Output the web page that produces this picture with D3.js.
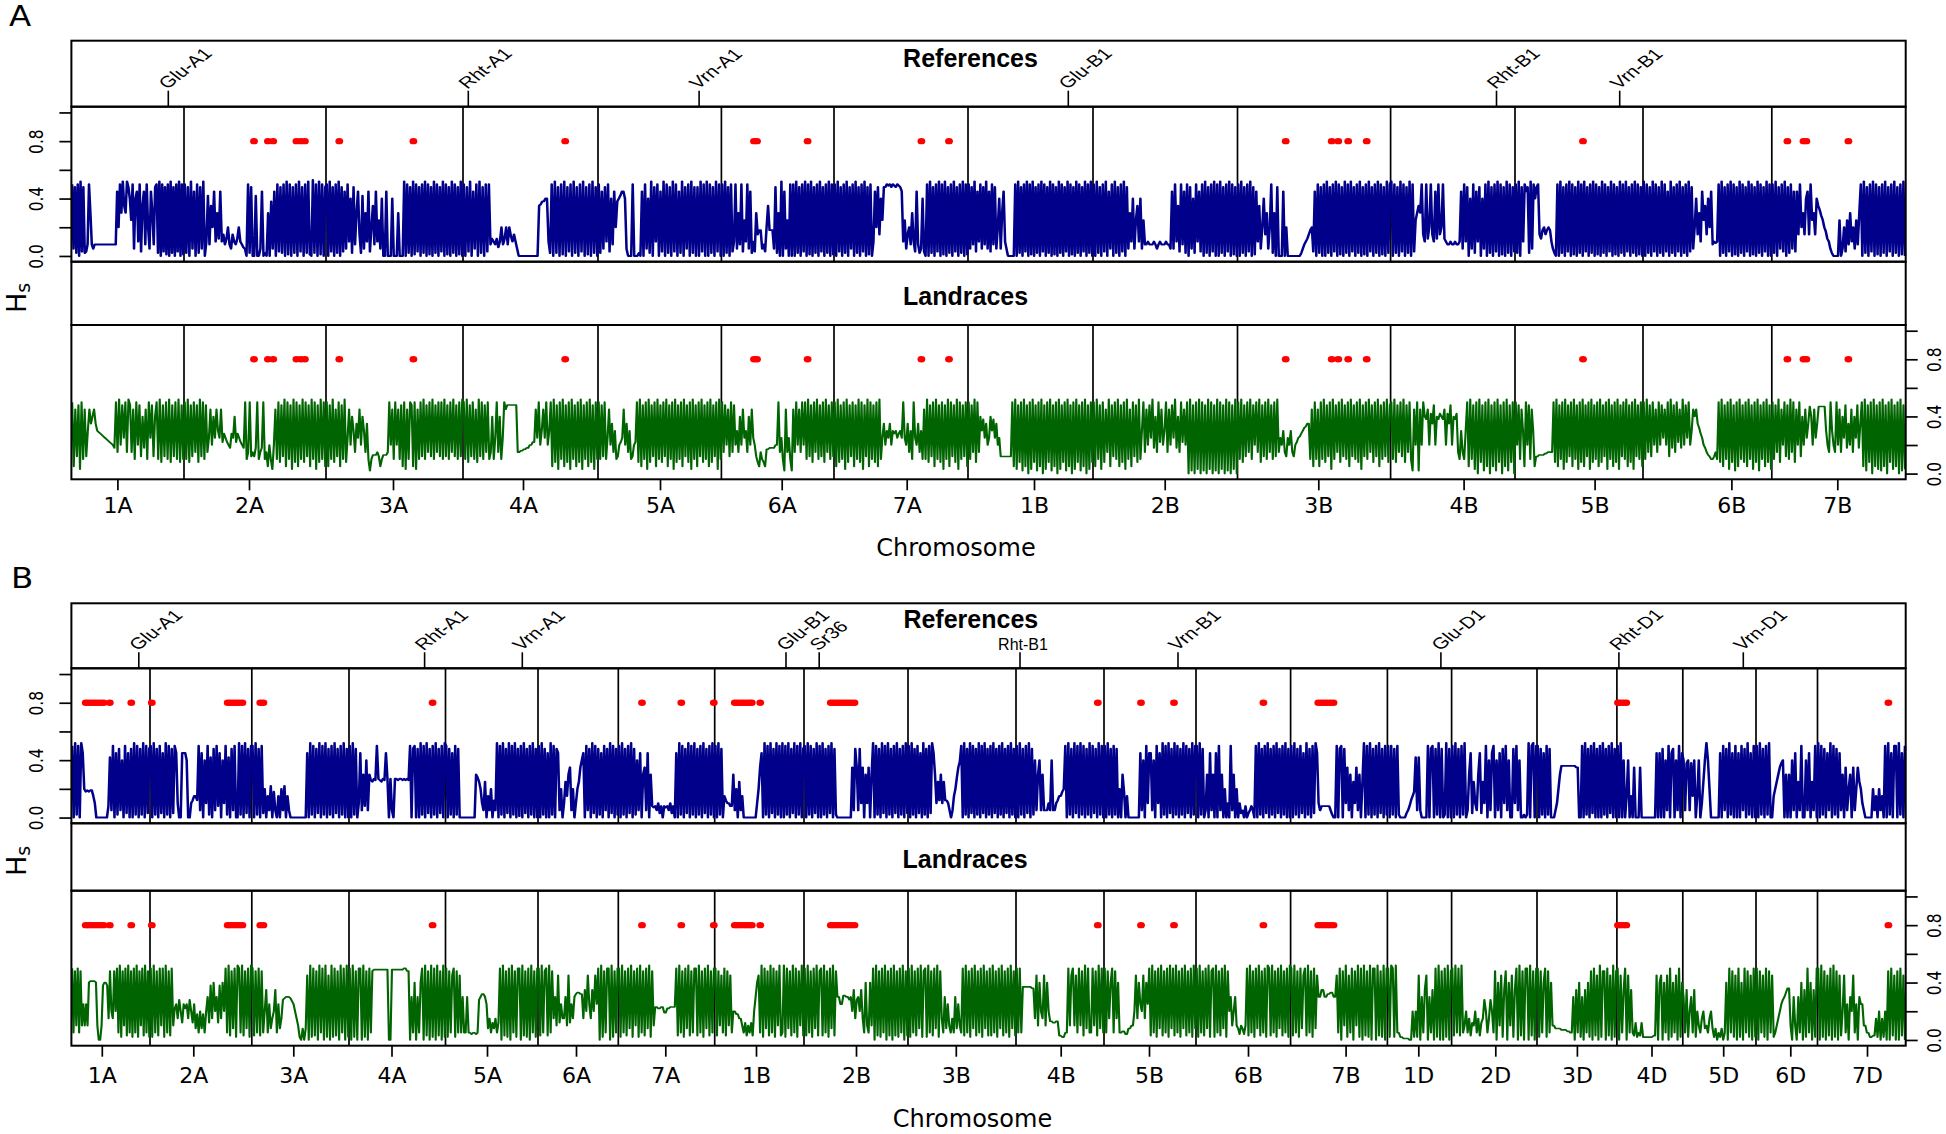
<!DOCTYPE html>
<html><head><meta charset="utf-8">
<script src="https://cdn.jsdelivr.net/npm/d3@7"></script>
<style>body{margin:0;background:#fff}</style>
</head><body><svg id="c" width="1946" height="1134"></svg>
<script>
// ---------------- DATA ----------------
// Panel A (14 chromosomes) – cumulative genome position (arbitrary units)
const chromA = ["1A","2A","3A","4A","5A","6A","7A","1B","2B","3B","4B","5B","6B","7B"];
const boundsA = [0,112.6,254.6,391.6,526.6,650,762.6,896.6,1021.6,1166.1,1319.2,1443.6,1571.6,1700.4,1834.3];
const ticksA = [46,177.6,321.6,451.6,588.6,710.3,835.3,962.6,1093.3,1246.9,1392.2,1523.2,1660,1765.9];
const dotsA = [182.6,196.5,201.8,225,229.5,233.5,267.9,342,493.8,682.6,685.6,736.2,850,877.6,1214.3,1260.3,1266.9,1276.8,1295.3,1511.6,1716,1732.1,1735,1777];
const markersA = ["Glu-A1","Rht-A1","Vrn-A1","Glu-B1","Rht-B1","Vrn-B1"];
const markerPosA = [96.9,396.9,627.7,996.9,1425.1,1548.3];
// Hs x100, one sub-array per chromosome (markers in map order)
const refA = [
[50,5,48,2,50,0,52,3,48,2,3,8,50,30,8,5,8,8,8,8,8,8,8,8,8,8,8,8,8,8,8,8,45,20,50,30,52,35,30,52,48,40,25,50,5,40,45,10,50,3,35,45,8,50,20,5,45,30,8,48,50,2,52,0,50,3,48,1,50,0,52,2,48,0,50,3,52,0,50,1],
[50,2,48,0,52,5,45,0,50,2,48,5,52,0,10,42,8,35,20,45,10,30,12,45,10,15,8,12,20,8,5,15,10,8,12,20,10,8,6,5,0,50,2,48,0,0,42,0,0,5,45,0,2,0,30,0,38,5,45,0,50,3,48,2,50,0,52,1,50,0,48,2,50,0,52,3,48,0,50,2,52,1,0,53,2,50,0,52,1,50,0,48],
[50,0,52,3,48,0,50,2,52,0,48,3,45,5,50,10,40,2,48,8,30,45,15,2,42,5,30,10,45,3,20,35,8,45,10,25,5,40,0,0,45,0,0,0,40,0,0,0,30,0,0,0,52,0,50,2,48,0,52,1,50,3,48,0,50,2,52,0,50,1,48,0,52,2,50,0,48,3,52,0,50,1,48,0,52,2,50,0,48,1,52,0],
[50,0,48,3,52,0,45,5,50,0,52,2,48,0,50,3,50,8,12,10,8,12,6,10,20,8,12,20,8,20,14,10,15,10,5,0,0,0,0,0,0,0,0,0,0,0,0,0,35,36,38,38,40,40,10,2,50,0,52,2,48,0,50,1,52,0,48,3,50,0,52,2,48,0,50,3,52,0,48,1,50,0,52,2,48,0],
[50,2,45,5,48,10,50,3,40,8,45,20,38,40,42,45,45,40,5,0,0,0,50,0,0,0,2,0,45,0,50,5,40,2,52,0,48,10,50,0,45,3,52,0,50,2,48,0,52,3,50,0,45,2,52,0,48,5,50,0,52,2,48,0,48,0,52,3,50,0,52,0,50,2,48,0,52,3,50,0],
[50,0,52,2,48,0,50,3,10,50,5,30,8,50,3,25,10,50,5,45,2,10,3,30,15,18,18,5,8,3,20,35,18,18,18,5,48,2,30,0,52,0,45,5,25,0,50,0,50,0,52,2,48,0,50,3,52,0,50,1,52,0,48,2,50,0,52,3,48,0,50,2,52,0,50,1],
[50,0,52,3,48,0,50,2,52,0,48,5,50,0,52,2,48,0,50,3,52,0,48,1,50,0,10,45,20,48,15,40,25,48,48,50,49,50,48,50,49,48,50,49,48,45,10,25,5,15,20,8,30,10,3,45,8,2,5,40,3,0,50,0,52,2,48,0,50,3,52,0,50,1,52,0,48,2,50,0,52,3,48,0,50,2,52,0,50,1],
[50,5,48,8,52,3,45,10,50,5,48,8,52,5,45,3,50,8,48,5,20,40,5,30,45,10,5,0,0,0,0,0,50,0,52,2,48,0,50,3,52,0,50,1,52,0,48,2,50,0,52,3,50,0,48,2,52,0,50,1,48,0,52,2,50,0,48,3,52,0,50,1,48,0,52,2,50,0,48,3,52,0,50,2,52,0],
[50,0,52,2,48,0,50,3,52,0,45,5,50,0,52,2,48,0,50,3,52,0,48,5,30,10,40,5,25,35,10,40,5,25,8,8,10,8,8,8,10,8,5,8,10,8,8,8,10,8,8,5,45,5,50,10,35,3,50,8,45,2,50,0,48,5,40,2,50,10,45,3,50,0,52,2,48,0,50,3,52,0,50,0,52,2,48,0,50,3,52,0,50,1,48,0],
[50,0,52,2,48,0,50,3,52,0,48,1,45,10,35,5,20,40,15,30,5,20,50,2,30,0,48,0,0,0,45,0,20,0,0,0,0,0,0,0,0,0,2,5,8,10,12,15,18,20,3,45,0,50,2,48,0,50,0,52,2,48,0,50,3,52,0,50,1,48,0,52,2,50,0,52,3,48,0,50,2,52,0,48,1,50,0,52,3,48,0,50,2,52,0,50,1,48,0,52,2,50],
[52,0,50,2,48,0,52,3,50,0,48,2,52,0,50,3,25,30,35,30,50,15,10,50,12,20,50,15,10,45,12,50,15,20,50,12,10,8,8,10,8,8,10,8,8,10,45,5,50,10,48,0,40,5,50,2,45,10,48,0,40,5,50,0,52,2,48,0,50,3,52,0,50,1,48,0,52,2,50,0,48,3],
[50,2,52,0,48,10,50,45,48,2,52,5,50,40,48,50,15,12,18,20,15,18,20,18,10,5,2,0,50,0,52,2,48,0,50,3,52,0,50,1,48,0,52,2,50,0,52,3,48,0,50,2,52,0,50,1,48,0,52,2,50,0,48,3,52,0,50,1,48,0,52,2,50,0,52,3,48,0,50,2,52,0,50,1,48,0],
[52,0,50,2,48,0,52,3,50,0,48,2,52,0,50,3,45,0,52,2,48,0,50,3,52,0,48,2,50,0,52,3,48,5,20,40,15,30,10,45,25,35,15,40,20,45,8,10,9,10,50,0,52,2,48,0,50,3,52,0,50,1,48,0,52,2,50,0,48,3,52,0,50,1,48,0,52,2,50,0,48,3,52,0,50,0],
[50,2,52,0,48,5,50,3,52,0,48,2,50,5,45,3,45,15,50,20,30,15,40,45,15,50,25,30,15,40,35,32,28,25,20,17,12,10,5,2,0,0,0,0,25,0,5,20,3,25,8,30,10,20,5,25,8,30,50,0,52,2,48,0,50,3,52,0,50,1,48,0,50,2,52,0,48,3,50,0,52,2,48,0,50,1,52,0]
];
const landA = [
[50,5,45,12,48,3,50,10,45,12,30,45,35,40,45,35,30,29,28,27,26,25,24,23,22,21,20,18,50,15,52,20,48,25,50,15,52,48,15,45,10,50,20,48,12,40,18,45,10,50,25,48,12,40,50,10,52,8,48,12,50,10,52,8,48,12,50,10,52,8,48,10],
[50,10,52,8,48,12,50,15,48,8,52,12,50,10,48,15,25,45,20,40,25,45,30,25,45,22,28,25,22,20,18,28,25,40,22,28,25,22,20,18,50,10,15,50,12,15,12,18,50,10,15,18,50,10,15,5,20,10,3,20,45,10,50,8,48,12,52,5,50,10,48,3,52,8,50,5,48,10,52,8,50,12,48,5,52,10,50,3,48,8,52,10,50,5],
[50,5,48,10,52,8,45,12,50,5,48,10,52,8,25,45,20,40,30,15,35,25,45,20,40,30,15,35,10,2,10,13,13,13,15,12,5,10,13,13,13,15,50,20,45,10,50,20,45,10,48,5,50,3,45,10,50,48,5,50,3,45,10,50,12,52,10,48,15,50,12,52,10,48,15,50,12,50,10,52,12,48,10,50,15,52,12,48,10,50,12,52],
[50,10,52,8,48,12,50,10,45,8,52,12,50,10,48,15,50,10,15,40,10,25,50,15,40,10,25,50,45,48,48,48,48,48,48,48,15,15,16,16,17,17,18,18,20,20,22,22,45,25,50,20,30,45,25,50,20,30,50,5,52,8,48,3,50,10,52,5,48,8,50,3,52,10,48,5,50,8,52,3,48,10,50,5,52,8,48,3,50,10],
[50,10,48,12,50,10,25,45,20,35,15,30,10,12,20,22,25,45,20,35,15,30,10,12,20,22,50,8,52,5,48,10,50,3,52,8,48,12,50,5,52,10,48,8,50,12,52,5,48,10,50,3,52,8,48,10,50,5,52,12,48,8,50,3,52,10,48,5,50,12,52,8,48,10,50,5,52,8,48,12,50,3,52,10],
[50,15,48,20,45,12,50,15,48,20,30,15,40,20,45,25,30,15,40,20,45,25,20,12,8,5,15,10,8,5,17,17,18,18,18,18,20,20,50,15,25,10,2,45,15,25,10,2,45,15,50,20,45,15,50,20,50,10,52,12,48,8,50,15,52,10,48,12,50,8,52,15,48,10,50,12],
[50,5,52,8,48,10,50,3,52,8,48,12,50,5,48,10,52,8,50,3,48,12,52,5,50,10,48,8,50,5,52,10,25,35,20,30,25,35,20,30,28,30,25,28,30,25,50,25,20,35,15,30,10,50,25,20,35,15,30,10,45,10,52,8,48,12,50,5,52,10,48,8,50,3,48,10,52,5,50,12,48,8,52,3,50,10,48,12,50,5],
[50,10,48,15,52,8,50,15,40,30,38,25,35,20,25,40,30,38,25,35,20,25,12,12,12,12,12,12,12,12,50,5,52,3,48,8,50,2,52,5,48,0,50,3,52,8,48,2,50,5,52,0,48,3,50,8,52,2,48,5,50,0,52,3,48,8,50,2,52,5,48,0,50,3,52,8,48,2,50,5,52,0,48,3,50,8],
[50,5,52,10,48,3,50,8,45,15,52,5,48,12,50,10,52,5,48,8,50,3,52,10,45,5,50,12,48,8,52,10,30,50,15,45,20,48,25,52,18,40,15,50,22,45,20,30,50,15,45,20,48,25,52,18,40,15,50,22,45,20,50,0,52,2,48,0,50,3,52,0,50,2,48,0,52,3,50,0,48,2,52,0,50,3,48,0,52,2,50,0,48,3,52,0],
[50,10,52,8,48,12,50,15,52,10,48,20,50,15,52,8,48,12,50,10,52,15,48,10,50,12,52,15,25,20,30,15,12,25,20,30,15,12,20,22,25,26,28,30,32,33,35,35,10,45,5,50,10,45,5,50,10,52,8,48,12,50,3,52,10,48,15,50,8,52,12,48,10,50,5,52,12,48,10,50,8,52,3,48,12,50,10,52,15,48,8,50,12,52,5,48,10,50,12,52,8,48],
[50,10,52,8,48,15,50,12,52,8,48,15,50,10,2,45,20,50,2,45,20,50,40,38,45,20,42,35,48,20,40,38,42,40,38,45,20,42,35,48,20,40,38,42,15,10,30,15,10,30,50,5,52,10,48,3,50,0,52,8,48,2,50,5,52,0,48,5,50,2,52,8,48,0,50,5,52,2,48,8,50,0],
[50,20,48,10,45,30,5,50,20,48,10,45,30,5,12,12,13,13,13,13,14,14,15,15,15,15,50,8,52,5,48,10,50,3,52,8,48,12,50,5,52,10,48,3,50,8,52,5,48,12,50,3,52,8,48,10,50,5,52,8,48,12,50,3,52,10,48,5,50,8,52,3,48,12,50,10,52,5,48,8,50,3,52,12,48,10,50,5],
[50,10,52,15,48,12,50,20,45,15,50,20,48,25,45,20,50,12,52,18,48,15,50,22,45,18,52,20,48,25,50,20,30,45,40,45,35,32,28,25,20,18,15,13,12,10,10,12,15,10,50,8,52,5,48,10,50,3,52,8,48,2,50,5,52,10,48,8,50,5,52,10,48,3,50,8,52,2,48,10,50,5,52,8,48,3],
[50,10,48,15,52,8,45,20,50,12,48,10,52,15,50,8,45,20,50,12,40,20,45,25,35,47,40,20,45,25,35,47,47,47,47,47,30,20,15,50,30,20,15,50,20,45,15,40,25,48,18,35,20,45,15,40,25,48,18,35,50,5,52,2,48,8,50,0,52,5,48,3,50,2,52,5,48,0,50,8,52,3,48,5,50,0,52,2,48,3]
];

// Panel B (21 chromosomes)
const chromB = ["1A","2A","3A","4A","5A","6A","7A","1B","2B","3B","4B","5B","6B","7B","1D","2D","3D","4D","5D","6D","7D"];
const boundsB = [0,78.6,180.4,277.6,374.1,466.6,546.9,643.3,732.6,836.6,944.6,1032.6,1124.6,1219.2,1316,1380.2,1465.6,1545.5,1611.4,1684.6,1746.1,1834.3];
const ticksB = [30.4,121.9,221.9,320.1,415.6,504.6,593.9,684.6,784.6,884.4,989.3,1077.6,1176.6,1274.2,1346.9,1423.9,1505.5,1580.1,1651.8,1718.9,1795.6];
const dotsB = [14.3,17,20,23,26,29,32.2,38.4,59.9,80.4,156.3,159,162,165,168,171,188.9,192,361.2,570.6,609.9,642.4,663.4,666,669,672,675,678,680.4,688.9,759.4,762,765,768,771,774,777,780,783.1,1026.4,1069.6,1102.6,1192,1246.9,1250,1253,1256,1259,1262.1,1546.6,1549,1552,1554.9,1817];
const markersB = ["Glu-A1","Rht-A1","Vrn-A1","Glu-B1","Sr36","Rht-B1","Vrn-B1","Glu-D1","Rht-D1","Vrn-D1"];
const markerPosB = [67.4,353.2,450.9,714.6,747.8,948.6,1106.6,1369.5,1547.5,1671.9];
const refB = [
[50,0,52,2,50,0,52,45,20,18,19,18,19,19,15,10,0,0,0,0,0,0,0,0,8,42,5,50,0,45,2,48,5,40,0,50,3,45,0,48,0,52,2,50,0,48,2,52,0,50,3,48],
[50,0,52,2,48,0,50,3,45,0,52,2,50,0,48,3,50,45,10,0,0,45,45,45,40,0,0,10,12,15,15,12,50,5,45,0,40,10,50,2,42,0,48,5,50,8,45,0,40,10,50,2,42,0,48,5,50,0,0,52,2,50,0,52,3,48,0,50],
[50,0,52,2,48,0,50,3,20,0,15,5,22,0,18,5,0,15,0,20,5,22,0,15,5,0,0,0,0,0,0,0,0,0,0,0,45,0,52,2,50,0,48,3,52,0,50,2,52,0,48,2,50,0,52,3,48,0,50,2,52,0,48,0],
[50,0,52,2,48,0,10,45,5,30,8,40,5,30,26,25,27,26,50,27,26,25,27,26,45,27,0,27,5,0,27,27,26,27,27,26,27,26,27,26,50,0,48,50,0,48,0,52,2,50,0,52,3,48,0,50,2,52,0,48,3,50,0,52],
[50,0,48,2,45,0,50,2,48,0,0,0,0,0,0,0,0,0,0,0,30,28,25,20,10,5,25,0,15,5,20,0,12,5,52,0,50,2,52,0,48,3,52,0,50,2,52,0,48,1,50,0,52,3,48,0,50,2,52,0,48,0],
[50,0,52,2,48,0,45,0,52,2,50,0,48,45,5,20,0,10,25,15,30,35,5,20,0,10,20,25,35,40,45,0,50,5,48,0,52,3,50,0,48,2,45,0,50,5,48,0,52,3,50,0,48,2],
[50,0,52,2,48,0,50,3,52,0,48,2,40,5,45,0,30,35,5,45,0,30,8,7,8,5,10,3,8,0,8,7,8,5,10,3,8,0,45,0,52,2,50,0,48,3,52,0,50,2,52,0,48,2,50,0,52,3,48,0,50,2,52,0],
[50,0,52,2,48,0,15,12,10,10,8,8,30,5,20,0,25,5,15,0,0,0,0,0,0,0,0,0,10,20,35,45,0,52,2,50,0,52,3,48,0,52,2,50,0,52,0,50,2,52,0,48,3,52,0,50,2,52,0,48],
[50,0,52,2,50,0,48,3,52,0,50,0,52,2,48,0,50,3,52,0,48,2,0,0,0,0,0,0,0,0,0,0,35,5,48,35,5,48,10,35,0,30,10,35,0,30,52,0,50,2,48,0,52,3,50,0,52,2,48,0,50,3,52,0,48,2,50,0,52,3],
[50,0,52,2,48,0,50,3,45,0,52,2,48,0,50,3,52,45,30,10,25,12,30,10,25,12,12,10,5,0,5,15,20,28,35,39,50,0,52,2,48,0,52,3,50,0,48,2,52,0,50,3,52,0,48,2,50,0,52,3,48,0,50,2,52,0,48,3,50,0,52,2,48,0],
[50,0,52,2,48,0,50,3,52,0,48,2,40,5,30,40,5,30,5,5,5,10,5,40,5,5,10,12,15,15,18,20,50,0,52,2,48,0,52,3,50,0,52,2,50,0,48,2,52,0,50,3,48,0,52,2,50,0],
[50,0,52,2,48,0,50,2,48,0,20,0,30,18,0,15,0,0,0,0,0,0,0,0,45,5,40,0,50,10,45,45,5,40,0,50,10,45,0,52,2,50,0,52,3,48,0,52,2,50,0,48,2,52,0,50,3,48,0,52,2,50],
[50,0,52,2,48,0,5,30,0,45,5,30,0,45,0,50,5,30,0,20,0,10,0,50,5,30,0,20,0,10,3,5,0,8,0,3,5,8,5,0,50,0,52,2,48,0,50,3,52,0,48,2,50,0,52,3,48,0,50,2,52,0,48,0],
[50,0,52,2,48,0,50,3,45,0,52,2,48,0,50,3,52,45,10,5,8,8,8,8,8,8,5,2,0,0,50,0,48,50,0,48,10,35,5,30,0,25,10,35,5,30,0,25,52,0,50,2,52,0,48,2,50,0,52,3,48,0,50,2],
[50,0,50,2,48,0,50,2,0,0,0,0,3,5,8,12,15,18,42,5,42,5,0,0,0,0,50,0,48,50,0,48,2,52,0,48,0,2,52,0,48,0],
[50,0,52,2,48,0,50,2,52,0,5,30,45,3,25,10,5,30,45,3,25,10,50,0,40,5,45,50,0,40,5,45,0,48,10,50,5,40,0,0,48,10,50,5,40,0,0,2,0,2,52,0,50,52,0,50],
[50,0,48,2,45,0,50,2,48,0,0,0,5,10,20,30,36,36,36,36,36,36,36,36,36,36,35,35,0,0,50,0,52,2,48,0,50,3,52,0,48,0,50,0,52,2,48,0,50,3,52,0,48,0],
[50,0,52,0,40,0,15,40,0,15,0,35,0,0,0,35,0,0,0,0,0,0,0,0,0,0,45,0,45,0,48,0,40,5,50,0,45,48,0,40,5,50,0,45],
[40,5,38,40,5,38,15,40,0,15,40,0,10,25,40,52,40,20,0,0,0,0,0,0,45,0,50,5,48,0,52,2,45,0,50,0,45,0,50,5,48,0,52,2,45,0,50,0],
[50,0,52,2,48,0,50,2,52,0,0,15,20,25,30,35,38,40,0,30,0,30,0,40,5,45,0,25,5,50,0,0,40,5,45,0,25,5,50,0],
[52,0,50,2,48,0,45,5,52,0,50,2,48,0,45,5,30,0,35,5,20,30,0,35,5,20,35,25,20,10,5,0,0,0,0,0,20,5,15,0,20,5,15,0,50,0,52,2,45,0,50,50,0,52,2,45,0,50]
];
const landB = [
[50,5,48,10,50,5,48,10,25,10,25,10,40,41,41,41,41,40,10,0,0,10,38,40,40,38,15,48,20,15,48,20,50,5,52,2,48,10,50,3,52,5,48,2,50,5,52,2,48,10,50,3,52,5,48,2],
[50,2,52,5,48,3,50,10,50,2,52,5,48,3,50,10,22,25,15,28,20,12,25,22,25,15,28,20,12,25,8,18,5,20,8,18,5,20,30,12,38,15,40,20,30,12,38,15,40,20,50,5,52,3,48,8,50,2,52,50,5,52,3,48,8,50,2,52],
[50,3,48,5,50,3,48,5,20,35,5,25,8,15,20,35,5,25,8,15,28,29,30,30,30,29,27,25,20,15,10,2,0,8,0,8,45,0,52,2,50,3,48,0,52,5,50,0,52,2,45,0,52,2,50,3,48,0,52,5,50,0,52,2],
[50,0,52,2,48,0,50,50,0,52,2,48,0,50,5,48,49,49,49,49,49,49,49,49,49,49,0,0,49,49,49,49,49,49,49,49,50,50,48,48,0,30,5,40,0,30,5,40,50,0,52,3,48,0,52,2,50,0,52,3,48,0,52,2],
[50,2,48,5,45,50,2,48,5,45,5,30,5,5,30,5,5,4,5,5,4,5,28,30,32,32,30,25,8,15,5,12,8,15,5,12,50,0,52,3,48,2,50,0,52,5,48,2,50,50,0,52,3,48,2,50,0,52,5,48,2,50],
[50,3,52,5,48,50,3,52,5,48,15,30,10,45,12,25,15,15,30,10,45,12,25,15,30,32,33,33,32,32,15,35,20,45,25,15,35,20,45,25,50,0,52,2,48,5,50,50,0,52,2,48,5,50],
[50,2,52,5,48,3,50,8,52,2,48,10,50,2,52,5,48,3,50,8,52,2,48,10,23,23,22,22,23,23,19,19,22,22,23,23,23,23,50,3,52,5,48,2,50,8,52,3,48,5,50,50,3,52,5,48,2,50,8,52,3,48,5,50],
[50,3,48,10,45,5,50,3,48,10,45,5,20,20,18,18,15,15,10,5,12,3,10,5,12,3,20,30,40,45,5,52,2,50,8,48,3,52,5,50,2,48,10,52,3,5,52,2,50,8,48,3,52,5,50,2,48,10,52,3],
[50,3,52,5,48,2,50,8,52,3,48,50,3,52,5,48,2,50,8,52,3,48,30,30,25,25,31,31,30,30,28,30,20,35,15,28,30,20,35,15,5,40,10,5,40,10,50,0,52,3,48,2,50,5,52,0,48,3,50,0,52,3,48,2,50,5,52,0,48,3],
[50,2,52,5,48,3,50,8,52,2,48,50,2,52,5,48,3,50,8,52,2,48,15,5,30,8,25,10,5,15,5,30,8,25,10,5,50,3,52,5,48,2,50,8,52,3,48,5,50,2,52,8,48,3,50,3,52,5,48,2,50,8,52,3,48,5,50,2,52,8,48,3],
[50,5,50,5,37,37,37,37,37,37,36,36,15,45,10,40,20,15,45,10,40,20,13,13,12,12,13,13,3,3,2,2,5,5,50,10,45,50,10,45,5,50,10,48,3,52,8,50,5,5,50,10,48,3,52,8,50,5],
[50,5,48,15,40,50,5,48,15,40,5,5,6,6,4,4,8,8,10,10,20,45,15,40,25,20,45,15,40,25,50,3,52,5,48,2,50,8,52,3,48,5,50,2,52,8,50,3,52,5,48,2,50,8,52,3,48,5,50,2,52,8],
[50,2,52,5,48,3,50,8,52,2,48,50,2,52,5,48,3,50,8,52,2,48,20,30,10,20,30,10,8,4,10,8,4,10,50,3,52,5,48,2,50,8,52,3,48,5,50,2,52,50,3,52,5,48,2,50,8,52,3,48,5,50,2,52],
[50,3,52,5,48,2,50,8,45,50,3,52,5,48,2,50,8,45,30,30,35,35,30,30,32,32,33,33,30,30,45,5,50,0,48,10,52,2,45,5,50,0,48,10,52,2,50,0,52,3,48,2,52,0,50,50,0,52,3,48,2,52,0,50],
[50,2,52,50,2,52,5,5,2,2,1,1,1,1,0,0,20,2,20,2,45,0,30,5,35,45,0,30,5,35,0,50,2,52,0,48,0,50,2,52,0,48],
[50,3,52,5,50,3,52,5,10,20,5,15,3,12,10,20,5,15,3,12,15,28,20,5,15,28,20,5,48,0,40,10,45,2,35,48,0,40,10,45,2,35,50,0,52,3,48,0,50,50,0,52,3,48,0,50],
[50,2,48,5,40,50,2,48,5,40,10,10,8,8,8,8,7,7,7,7,6,6,5,5,30,0,35,5,40,2,30,0,35,5,40,2,48,0,50,3,45,0,52,2,48,48,0,50,3,45,0,52,2,48],
[50,0,45,5,35,50,0,45,5,35,5,3,12,2,5,3,12,2,2,2,2,2,2,2,3,3,45,0,40,45,0,40,5,45,0,50,2,40,5,45,0,50,2,40],
[30,5,35,2,20,30,5,35,2,20,10,5,15,20,8,10,5,15,20,8,2,8,0,5,2,8,0,5,40,0,50,5,48,2,45,0,50,2,40,0,50,5,48,2,45,0,50,2],
[50,0,48,5,45,2,50,0,48,5,45,2,5,10,15,20,25,28,30,33,36,36,10,0,30,10,0,30,5,40,0,35,2,50,5,40,0,35,2,50],
[50,0,52,2,48,0,45,3,50,0,52,2,48,0,45,3,20,45,5,25,0,30,20,45,5,25,0,30,25,25,10,10,5,5,2,2,3,3,15,2,20,0,15,2,20,0,48,0,50,3,45,0,48,0,50,3,45,0]
];
const yTicks = [0,0.2,0.4,0.6,0.8,1.0];
const yLabelled = [0,0.4,0.8];
const dotLevel = 0.8;

// ---------------- DRAW ----------------
const svg = d3.select("#c");
svg.append("rect").attr("width",1946).attr("height",1134).attr("fill","#fff");
const X0 = 71.4, X1 = 1905.7;
const SX = 1.33; // horizontal stretch of the original graphics device
const BLUE = "#00008B", GREEN = "#006400", RED = "#FF0000";
const AX = "DejaVu Sans", TF = "Liberation Sans";

function flatten(series, bounds){
  const out = [];
  series.forEach((arr,k)=>{
    const a = bounds[k], b = bounds[k+1], n = arr.length;
    arr.forEach((v,i)=>out.push([a + (i+0.5)/n*(b-a), v/100]));
  });
  return out;
}

function drawPanel(o){
  const x = d3.scaleLinear().domain([0, o.bounds[o.bounds.length-1]]).range([X0, X1]);
  const L = o.L;
  svg.append("text").attr("font-family",AX).attr("font-size",29)
    .attr("transform",`translate(${L.letterX},${L.letterY}) scale(1.12,1)`).text(o.letter);

  function plot(top, bot, series, color, lw){
    const y = d3.scaleLinear().domain([-0.04,1.04]).range([bot, top]);
    const g = svg.append("g");
    g.selectAll("line.sep").data(o.bounds.slice(1,-1)).join("line")
      .attr("x1",d=>x(d)).attr("x2",d=>x(d)).attr("y1",top).attr("y2",bot)
      .attr("stroke","#000").attr("stroke-width",1.7);
    const line = d3.line().x(d=>x(d[0])/SX).y(d=>y(d[1]));
    g.append("g").attr("transform",`scale(${SX},1)`)
      .append("path").attr("d", line(flatten(series, o.bounds))).attr("fill","none")
      .attr("stroke",color).attr("stroke-width",lw).attr("stroke-linejoin","round");
    g.selectAll("ellipse").data(o.dots).join("ellipse")
      .attr("cx",d=>x(d)).attr("cy",y(dotLevel)).attr("rx",3.9).attr("ry",3.2).attr("fill",RED);
    g.append("rect").attr("x",X0).attr("y",top).attr("width",X1-X0).attr("height",bot-top)
      .attr("fill","none").attr("stroke","#000").attr("stroke-width",2);
    return y;
  }
  function header(top, bot){
    svg.append("rect").attr("x",X0).attr("y",top).attr("width",X1-X0).attr("height",bot-top)
      .attr("fill","none").attr("stroke","#000").attr("stroke-width",2);
  }
  function styleY(g, side){
    g.select(".domain").remove();
    g.selectAll(".tick line").attr("stroke","#000").attr("stroke-width",1.7);
    const tx = side < 0 ? -28 : 35;
    g.selectAll(".tick text").attr("x",0).attr("dy",0).attr("text-anchor","middle")
      .attr("font-family",AX).attr("font-size",15.5).attr("fill","#000")
      .attr("transform",`translate(${tx},0) scale(1.22,1) rotate(-90)`);
  }
  const fmt = d => yLabelled.includes(d) ? d.toFixed(1) : "";

  // references
  header(L.hTop, L.pTop);
  const yR = plot(L.pTop, L.pBot, o.ref, BLUE, 1.9);
  svg.append("g").attr("transform",`translate(${X0},0)`)
    .call(d3.axisLeft(yR).tickValues(yTicks).tickSize(12).tickFormat(fmt)).call(g=>styleY(g,-1));
  const mk = svg.append("g");
  o.markers.forEach((m,i)=>{
    const px = x(o.markerPos[i]);
    mk.append("line").attr("x1",px).attr("x2",px).attr("y1",L.pTop).attr("y2",L.pTop-16)
      .attr("stroke","#000").attr("stroke-width",1.6);
    const t = mk.append("text").attr("font-family",TF).attr("font-size",16).text(m);
    if (o.upright.includes(m)) {
      t.attr("x",px+3).attr("y",L.pTop-18).attr("text-anchor","middle");
    } else {
      t.attr("transform",`translate(${px-1},${L.pTop-17}) scale(1.3,1) rotate(-45)`);
    }
  });
  svg.append("text").attr("x",L.refTitleX).attr("y",L.refTitleY).attr("text-anchor","middle")
    .attr("font-family",TF).attr("font-weight","bold").attr("font-size",25).text("References");

  // landraces
  header(L.pBot, L.lpTop);
  svg.append("text").attr("x",L.landTitleX).attr("y",L.landTitleY).attr("text-anchor","middle")
    .attr("font-family",TF).attr("font-weight","bold").attr("font-size",25).text("Landraces");
  const yL = plot(L.lpTop, L.lpBot, o.land, GREEN, 1.6);
  svg.append("g").attr("transform",`translate(${X1},0)`)
    .call(d3.axisRight(yL).tickValues(yTicks).tickSize(12).tickFormat(fmt)).call(g=>styleY(g,1));
  svg.append("g").attr("transform",`translate(0,${L.lpBot})`)
    .call(d3.axisBottom(x).tickValues(o.ticks).tickSize(11).tickFormat((d,i)=>o.chrom[i]))
    .call(g=>{
      g.select(".domain").remove();
      g.selectAll(".tick line").attr("stroke","#000").attr("stroke-width",1.7);
      g.selectAll(".tick text").attr("y",L.tickLabY-L.lpBot).attr("dy",0)
        .attr("font-family",AX).attr("font-size",22).attr("fill","#000");
    });
  svg.append("text").attr("x",L.xlabX).attr("y",L.xlabY).attr("text-anchor","middle")
    .attr("font-family",AX).attr("font-size",24).text("Chromosome");
  const hs = svg.append("text").attr("transform",`translate(26,${L.hsY}) rotate(-90)`)
    .attr("text-anchor","middle").attr("font-family",AX).attr("font-size",27);
  hs.append("tspan").text("H");
  hs.append("tspan").attr("font-size",19).attr("dy",4).text("s");
}

drawPanel({letter:"A", chrom:chromA, bounds:boundsA, ticks:ticksA, dots:dotsA,
  markers:markersA, markerPos:markerPosA, ref:refA, land:landA, upright:[],
  L:{letterX:9, letterY:26, hTop:40.7, pTop:106.7, pBot:261.7, lpTop:325, lpBot:479.3,
     tickLabY:513, xlabX:956, xlabY:555.5, refTitleX:970.5, refTitleY:66.7,
     landTitleX:965.6, landTitleY:305, hsY:298}});
drawPanel({letter:"B", chrom:chromB, bounds:boundsB, ticks:ticksB, dots:dotsB,
  markers:markersB, markerPos:markerPosB, ref:refB, land:landB, upright:["Rht-B1"],
  L:{letterX:11, letterY:588, hTop:603.3, pTop:668.3, pBot:823.3, lpTop:890.7, lpBot:1045.7,
     tickLabY:1083, xlabX:972.5, xlabY:1127, refTitleX:970.8, refTitleY:628.3,
     landTitleX:965, landTitleY:868.3, hsY:861}});
</script>
</body></html>
